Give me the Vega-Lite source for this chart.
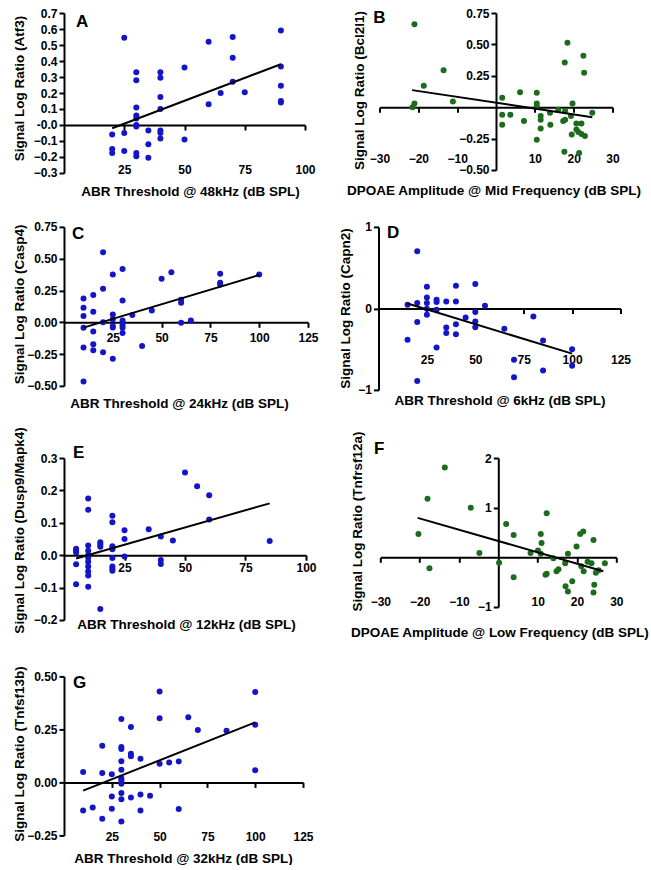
{
  "$schema": "https://vega.github.io/schema/vega-lite/v6.json",
  "padding": {"left": 11, "top": 7, "right": 0, "bottom": 0},
  "config": {
    "view": {"stroke": null},
    "axis": {"grid": false, "domainColor": "#000", "domainWidth": 2, "tickColor": "#000", "tickWidth": 2, "tickSize": 5,
      "labelFont": "Liberation Sans", "labelFontSize": 12, "labelFontWeight": "bold", "labelColor": "#000", "labelPadding": 2,
      "titleFont": "Liberation Sans", "titleFontSize": 13.5, "titleFontWeight": "bold", "titleColor": "#000",
      "labelFlush": false, "labelOverlap": false, "labelBound": false, "titleBaseline": "middle"},
    "text": {"font": "Liberation Sans", "fontWeight": "bold", "fontSize": 17, "color": "#000", "align": "center", "baseline": "alphabetic"},
    "circle": {"size": 36, "opacity": 1},
    "line": {"color": "#000", "strokeWidth": 2}
  },
  "datasets": {
    "A": [{"x":20,"y":-0.06},{"x":20,"y":-0.15},{"x":20,"y":-0.175},{"x":25,"y":0.545},{"x":25,"y":-0.05},{"x":25,"y":-0.163},
      {"x":30,"y":0.33},{"x":30,"y":0.28},{"x":30,"y":0.11},{"x":30,"y":0.06},{"x":30,"y":0.04},{"x":30,"y":0.0},{"x":30,"y":-0.01},{"x":30,"y":-0.175},{"x":30,"y":-0.195},
      {"x":35,"y":-0.035},{"x":35,"y":-0.12},{"x":35,"y":-0.205},
      {"x":40,"y":0.33},{"x":40,"y":0.295},{"x":40,"y":0.175},{"x":40,"y":0.1},{"x":40,"y":-0.035},{"x":40,"y":-0.05},{"x":40,"y":-0.085},
      {"x":50,"y":0.36},{"x":50,"y":-0.09},{"x":60,"y":0.52},{"x":60,"y":0.13},{"x":65,"y":0.2},
      {"x":70,"y":0.55},{"x":70,"y":0.42},{"x":70,"y":0.27},{"x":75,"y":0.205},
      {"x":90,"y":0.59},{"x":90,"y":0.365},{"x":90,"y":0.245},{"x":90,"y":0.15},{"x":90,"y":0.14}],
    "Afit": [{"x":20,"y":-0.02},{"x":90,"y":0.38}],
    "B": [{"x":-21,"y":0.66},{"x":-21,"y":0.03},{"x":-21.5,"y":0.0},{"x":-18.6,"y":0.17},{"x":-13.5,"y":0.295},{"x":-11.1,"y":0.045},
      {"x":1.6,"y":0.075},{"x":1.6,"y":-0.06},{"x":1.6,"y":-0.14},{"x":3.7,"y":-0.06},{"x":6.2,"y":0.12},{"x":7.2,"y":-0.11},
      {"x":10.5,"y":0.115},{"x":10.5,"y":0.03},{"x":10.5,"y":0.005},{"x":10.5,"y":-0.26},{"x":11.5,"y":-0.07},{"x":11.5,"y":-0.1},{"x":11.5,"y":-0.17},
      {"x":13.9,"y":-0.045},{"x":14,"y":-0.14},{"x":16,"y":-0.02},{"x":17.3,"y":-0.11},{"x":17.8,"y":-0.1},{"x":17.7,"y":0.355},{"x":17.8,"y":-0.03},{"x":17.6,"y":-0.355},
      {"x":18.4,"y":0.513},{"x":19.5,"y":-0.218},{"x":19.7,"y":0.03},{"x":19.3,"y":-0.07},{"x":20.7,"y":-0.13},{"x":20.7,"y":-0.178},{"x":21.2,"y":-0.197},{"x":21.4,"y":-0.364},
      {"x":22,"y":-0.13},{"x":22,"y":-0.213},{"x":22.5,"y":0.41},{"x":22.7,"y":0.275},{"x":22.9,"y":-0.23},{"x":24.8,"y":-0.045}],
    "Bfit": [{"x":-21.6,"y":0.136},{"x":24.8,"y":-0.08}],
    "C": [{"x":10,"y":0.188},{"x":10,"y":0.115},{"x":10,"y":0.049},{"x":10,"y":-0.042},{"x":10,"y":-0.199},{"x":10,"y":-0.466},
      {"x":15,"y":0.214},{"x":15,"y":0.083},{"x":15,"y":-0.073},{"x":15,"y":-0.173},{"x":15,"y":-0.22},
      {"x":20,"y":0.551},{"x":20,"y":0.264},{"x":20,"y":0.0},{"x":20,"y":-0.236},
      {"x":25,"y":0.376},{"x":25,"y":0.062},{"x":25,"y":0.023},{"x":25,"y":-0.03},{"x":25,"y":-0.04},{"x":25,"y":-0.286},
      {"x":30,"y":0.42},{"x":30,"y":0.172},{"x":30,"y":0.015},{"x":30,"y":-0.024},{"x":30,"y":-0.042},{"x":30,"y":-0.084},
      {"x":35,"y":0.057},{"x":40,"y":-0.187},{"x":45,"y":0.093},{"x":50,"y":0.342},{"x":55,"y":0.394},
      {"x":60,"y":0.177},{"x":60,"y":0.153},{"x":60,"y":-0.003},{"x":65,"y":0.015},
      {"x":80,"y":0.381},{"x":80,"y":0.311},{"x":80,"y":0.298},{"x":100,"y":0.376}],
    "Cfit": [{"x":10,"y":-0.042},{"x":100,"y":0.372}],
    "D": [{"x":15,"y":0.045},{"x":15,"y":-0.385},{"x":20,"y":0.7},{"x":20,"y":0.066},{"x":20,"y":-0.168},{"x":20,"y":-0.89},
      {"x":25,"y":0.266},{"x":25,"y":0.135},{"x":25,"y":0.066},{"x":25,"y":-0.004},{"x":25,"y":-0.078},
      {"x":30,"y":0.107},{"x":30,"y":0.078},{"x":30,"y":-0.016},{"x":30,"y":-0.48},
      {"x":35,"y":0.086},{"x":35,"y":-0.234},{"x":35,"y":-0.303},
      {"x":40,"y":0.279},{"x":40,"y":0.086},{"x":40,"y":-0.193},{"x":40,"y":-0.316},{"x":45,"y":-0.111},
      {"x":50,"y":0.3},{"x":50,"y":-0.045},{"x":50,"y":-0.16},{"x":50,"y":-0.23},
      {"x":55,"y":0.033},{"x":65,"y":-0.25},{"x":70,"y":-0.63},{"x":70,"y":-0.844},{"x":80,"y":-0.098},{"x":85,"y":-0.393},{"x":85,"y":-0.762},{"x":100,"y":-0.5},{"x":100,"y":-0.705}],
    "Dfit": [{"x":15,"y":0.06},{"x":100,"y":-0.555}],
    "E": [{"x":5,"y":0.02},{"x":5,"y":0.015},{"x":5,"y":0.008},{"x":5,"y":-0.028},{"x":5,"y":-0.09},
      {"x":10,"y":0.175},{"x":10,"y":0.14},{"x":10,"y":0.03},{"x":10,"y":0.014},{"x":10,"y":0.0},{"x":10,"y":-0.008},{"x":10,"y":-0.02},{"x":10,"y":-0.035},{"x":10,"y":-0.05},{"x":10,"y":-0.063},{"x":10,"y":-0.097},
      {"x":15,"y":0.04},{"x":15,"y":0.033},{"x":15,"y":0.026},{"x":15,"y":-0.166},
      {"x":20,"y":0.122},{"x":20,"y":0.102},{"x":20,"y":0.028},{"x":20,"y":0.022},{"x":20,"y":0.018},{"x":20,"y":-0.009},{"x":20,"y":-0.035},{"x":20,"y":-0.042},{"x":20,"y":-0.048},
      {"x":25,"y":0.077},{"x":25,"y":0.05},{"x":25,"y":-0.004},
      {"x":35,"y":0.08},{"x":40,"y":0.058},{"x":40,"y":-0.015},{"x":40,"y":-0.027},{"x":45,"y":0.045},{"x":50,"y":0.255},{"x":55,"y":0.213},{"x":60,"y":0.185},{"x":60,"y":0.11},{"x":85,"y":0.044}],
    "Efit": [{"x":5,"y":-0.01},{"x":85,"y":0.16}],
    "F": [{"x":-20.3,"y":0.47},{"x":-18,"y":1.18},{"x":-17.5,"y":-0.22},{"x":-13.6,"y":1.81},{"x":-7,"y":1.0},{"x":-4.8,"y":0.085},
      {"x":0.2,"y":-0.11},{"x":2,"y":0.67},{"x":3.9,"y":0.45},{"x":3.9,"y":-0.4},{"x":8.2,"y":0.085},{"x":10.1,"y":0.14},{"x":10.8,"y":0.47},{"x":11,"y":0.29},{"x":10.8,"y":0.07},
      {"x":12.3,"y":0.89},{"x":12,"y":-0.35},{"x":12.3,"y":-0.33},{"x":14,"y":-0.02},{"x":14.8,"y":-0.28},{"x":15.3,"y":-0.24},{"x":17,"y":-0.12},{"x":17.7,"y":0.07},
      {"x":17.1,"y":-0.58},{"x":17.7,"y":-0.69},{"x":18.8,"y":-0.48},{"x":19.9,"y":0.22},{"x":20.8,"y":0.47},{"x":21.1,"y":-0.18},{"x":21.6,"y":0.52},{"x":21.7,"y":-0.28},
      {"x":22.7,"y":-0.09},{"x":23.7,"y":-0.12},{"x":24.2,"y":0.35},{"x":24.4,"y":-0.55},{"x":24.2,"y":-0.71},{"x":24.8,"y":-0.31},{"x":25.5,"y":-0.26},{"x":27.1,"y":-0.12}],
    "Ffit": [{"x":-20.5,"y":0.795},{"x":26.7,"y":-0.28}],
    "G": [{"x":10,"y":0.049},{"x":10,"y":-0.132},{"x":15,"y":-0.118},{"x":20,"y":0.173},{"x":20,"y":0.044},{"x":20,"y":-0.171},
      {"x":25,"y":0.038},{"x":25,"y":-0.066},{"x":25,"y":-0.124},
      {"x":30,"y":0.299},{"x":30,"y":0.167},{"x":30,"y":0.157},{"x":30,"y":0.1},{"x":30,"y":0.06},{"x":30,"y":0.02},{"x":30,"y":0.009},{"x":30,"y":-0.006},{"x":30,"y":-0.05},{"x":30,"y":-0.079},{"x":30,"y":-0.184},
      {"x":35,"y":0.261},{"x":35,"y":0.135},{"x":35,"y":0.123},{"x":35,"y":-0.071},{"x":40,"y":0.112},{"x":40,"y":-0.057},{"x":40,"y":-0.132},{"x":45,"y":-0.063},
      {"x":50,"y":0.429},{"x":50,"y":0.303},{"x":50,"y":0.088},{"x":55,"y":0.094},{"x":60,"y":0.099},{"x":60,"y":-0.126},{"x":65,"y":0.307},{"x":70,"y":0.247},{"x":85,"y":0.244},
      {"x":100,"y":0.426},{"x":100,"y":0.272},{"x":100,"y":0.057}],
    "Gfit": [{"x":10,"y":-0.039},{"x":100,"y":0.283}]
  },
  "spacing": 22.9,
  "vconcat": [
    {"hconcat": [
      {"width": 241, "height": 160, "layer": [
        {"data": {"name": "A"}, "mark": {"type": "circle", "color": "#1515c8"},
         "encoding": {
          "x": {"field": "x", "type": "quantitative", "scale": {"domain": [-0.00001, 100.00001], "nice": false, "zero": false},
            "axis": {"title": "ABR Threshold @ 48kHz (dB SPL)", "values": [25, 50, 75, 100], "format": "d", "tickCount": 100, "labelOverlap": false, "offset": -48, "labelPadding": 34, "titleX": 126, "titleY": 66}},
          "y": {"field": "y", "type": "quantitative", "scale": {"domain": [-0.30001, 0.70001], "nice": false, "zero": false},
            "axis": {"title": "Signal Log Ratio (Atf3)", "values": [-0.3, -0.2, -0.1, 0, 0.1, 0.2, 0.3, 0.4, 0.5, 0.6, 0.7], "tickCount": 100, "labelOverlap": false, "labelExpr": "datum.value == 0 ? '-0.0' : format(datum.value, '.1f')", "titleX": -45, "titleY": 75}}}},
        {"data": {"name": "Afit"}, "mark": {"type": "line"}, "encoding": {"x": {"field": "x", "type": "quantitative"}, "y": {"field": "y", "type": "quantitative"}}},
        {"data": {"values": [{"label": "A"}]}, "mark": {"type": "text"}, "encoding": {"x": {"datum": 7.5}, "y": {"datum": 0.615}, "text": {"field": "label"}}}
      ]},
      {"width": 233, "height": 157, "layer": [
        {"data": {"name": "B"}, "mark": {"type": "circle", "color": "#1d6b1d"},
         "encoding": {
          "x": {"field": "x", "type": "quantitative", "scale": {"domain": [-30.0001, 30.0001], "nice": false, "zero": false},
            "axis": {"title": "DPOAE Amplitude @ Mid Frequency (dB SPL)", "values": [-30, -20, -10, 10, 20, 30], "format": "d", "tickCount": 100, "labelOverlap": false, "offset": -62.8, "labelPadding": 41, "titleX": 114, "titleY": 83}},
          "y": {"field": "y", "type": "quantitative", "scale": {"domain": [-0.50001, 0.75001], "nice": false, "zero": false},
            "axis": {"title": "Signal Log Ratio (Bcl2l1)", "values": [-0.5, -0.25, 0.25, 0.5, 0.75], "tickCount": 100, "labelOverlap": false, "format": ".2f", "offset": -116.5, "titleX": -137, "titleY": 77}}}},
        {"data": {"name": "Bfit"}, "mark": {"type": "line"}, "encoding": {"x": {"field": "x", "type": "quantitative"}, "y": {"field": "y", "type": "quantitative"}}},
        {"data": {"values": [{"label": "B"}]}, "mark": {"type": "text"}, "encoding": {"x": {"datum": -30}, "y": {"datum": 0.668}, "text": {"field": "label"}}}
      ]}
    ], "bounds": "flush", "spacing": 74.5},
    {"vconcat": [
      {"hconcat": [
        {"width": 244, "height": 159, "layer": [
          {"data": {"name": "C"}, "mark": {"type": "circle", "color": "#1515c8"},
           "encoding": {
            "x": {"field": "x", "type": "quantitative", "scale": {"domain": [-0.00001, 125.00001], "nice": false, "zero": false},
              "axis": {"title": "ABR Threshold @ 24kHz (dB SPL)", "values": [25, 50, 75, 100, 125], "format": "d", "tickCount": 100, "labelOverlap": false, "offset": -63.6, "labelPadding": 5, "titleX": 115, "titleY": 81}},
            "y": {"field": "y", "type": "quantitative", "scale": {"domain": [-0.50001, 0.75001], "nice": false, "zero": false},
              "axis": {"title": "Signal Log Ratio (Casp4)", "values": [-0.5, -0.25, 0, 0.25, 0.5, 0.75], "tickCount": 100, "labelOverlap": false, "format": ".2f", "titleX": -45, "titleY": 77}}}},
          {"data": {"name": "Cfit"}, "mark": {"type": "line"}, "encoding": {"x": {"field": "x", "type": "quantitative"}, "y": {"field": "y", "type": "quantitative"}}},
          {"data": {"values": [{"label": "C"}]}, "mark": {"type": "text"}, "encoding": {"x": {"datum": 7.2}, "y": {"datum": 0.653}, "text": {"field": "label"}}}
        ]},
        {"width": 242, "height": 163, "layer": [
          {"data": {"name": "D"}, "mark": {"type": "circle", "color": "#1515c8"},
           "encoding": {
            "x": {"field": "x", "type": "quantitative", "scale": {"domain": [-0.00001, 125.00001], "nice": false, "zero": false},
              "axis": {"title": "ABR Threshold @ 6kHz (dB SPL)", "values": [25, 50, 75, 100, 125], "format": "d", "tickCount": 100, "labelOverlap": false, "offset": -81.5, "labelPadding": 41, "titleX": 121, "titleY": 92}},
            "y": {"field": "y", "type": "quantitative", "scale": {"domain": [-1.00001, 1.00001], "nice": false, "zero": false},
              "axis": {"title": "Signal Log Ratio (Capn2)", "values": [-1, 0, 1], "tickCount": 100, "labelOverlap": false, "labelExpr": "datum.value == 0 ? '0' : format(datum.value, 'd')", "titleX": -33, "titleY": 81}}}},
          {"data": {"name": "Dfit"}, "mark": {"type": "line"}, "encoding": {"x": {"field": "x", "type": "quantitative"}, "y": {"field": "y", "type": "quantitative"}}},
          {"data": {"values": [{"label": "D"}]}, "mark": {"type": "text"}, "encoding": {"x": {"datum": 7.6}, "y": {"datum": 0.865}, "text": {"field": "label"}}}
        ]}
      ], "bounds": "flush", "spacing": 70.5},
      {"vconcat": [
        {"hconcat": [
          {"width": 242, "height": 162, "layer": [
            {"data": {"name": "E"}, "mark": {"type": "circle", "color": "#1515c8"},
             "encoding": {
              "x": {"field": "x", "type": "quantitative", "scale": {"domain": [-0.00001, 100.00001], "nice": false, "zero": false},
                "axis": {"title": "ABR Threshold @ 12kHz (dB SPL)", "values": [25, 50, 75, 100], "format": "d", "tickCount": 100, "labelOverlap": false, "offset": -64.8, "labelPadding": 2, "titleX": 122, "titleY": 69}},
              "y": {"field": "y", "type": "quantitative", "scale": {"domain": [-0.20001, 0.30001], "nice": false, "zero": false},
                "axis": {"title": "Signal Log Ratio (Dusp9/Mapk4)", "values": [-0.2, -0.1, 0, 0.1, 0.2, 0.3], "tickCount": 100, "labelOverlap": false, "format": ".1f", "titleX": -45, "titleY": 72}}}},
            {"data": {"name": "Efit"}, "mark": {"type": "line"}, "encoding": {"x": {"field": "x", "type": "quantitative"}, "y": {"field": "y", "type": "quantitative"}}},
            {"data": {"values": [{"label": "E"}]}, "mark": {"type": "text"}, "encoding": {"x": {"datum": 6.1}, "y": {"datum": 0.3}, "text": {"field": "label"}}}
          ]},
          {"width": 236, "height": 149, "layer": [
            {"data": {"name": "F"}, "mark": {"type": "circle", "color": "#1d6b1d"},
             "encoding": {
              "x": {"field": "x", "type": "quantitative", "scale": {"domain": [-30.0001, 30.0001], "nice": false, "zero": false},
                "axis": {"title": "DPOAE Amplitude @ Low Frequency (dB SPL)", "values": [-30, -20, -10, 10, 20, 30], "format": "d", "tickCount": 100, "labelOverlap": false, "offset": -49.7, "labelPadding": 34, "titleX": 119, "titleY": 75}},
              "y": {"field": "y", "type": "quantitative", "scale": {"domain": [-1.00001, 2.00001], "nice": false, "zero": false},
                "axis": {"title": "Signal Log Ratio (Tnfrsf12a)", "values": [-1, 1, 2], "tickCount": 100, "labelOverlap": false, "format": "d", "offset": -118, "titleX": -141, "titleY": 63}}}},
            {"data": {"name": "Ffit"}, "mark": {"type": "line"}, "encoding": {"x": {"field": "x", "type": "quantitative"}, "y": {"field": "y", "type": "quantitative"}}},
            {"data": {"values": [{"label": "F"}]}, "mark": {"type": "text"}, "encoding": {"x": {"datum": -30.3}, "y": {"datum": 2.09}, "text": {"field": "label"}}}
          ]}
        ], "bounds": "flush", "spacing": 74.3},
        {"width": 239, "height": 159, "layer": [
          {"data": {"name": "G"}, "mark": {"type": "circle", "color": "#1515c8"},
           "encoding": {
            "x": {"field": "x", "type": "quantitative", "scale": {"domain": [-0.00001, 125.00001], "nice": false, "zero": false},
              "axis": {"title": "ABR Threshold @ 32kHz (dB SPL)", "values": [25, 50, 75, 100, 125], "format": "d", "tickCount": 100, "labelOverlap": false, "offset": -53, "labelPadding": 44, "titleX": 119, "titleY": 76}},
            "y": {"field": "y", "type": "quantitative", "scale": {"domain": [-0.25001, 0.50001], "nice": false, "zero": false},
              "axis": {"title": "Signal Log Ratio (Tnfsf13b)", "values": [-0.25, 0, 0.25, 0.5], "tickCount": 100, "labelOverlap": false, "format": ".2f", "titleX": -45, "titleY": 77}}}},
          {"data": {"name": "Gfit"}, "mark": {"type": "line"}, "encoding": {"x": {"field": "x", "type": "quantitative"}, "y": {"field": "y", "type": "quantitative"}}},
          {"data": {"values": [{"label": "G"}]}, "mark": {"type": "text"}, "encoding": {"x": {"datum": 8.2}, "y": {"datum": 0.447}, "text": {"field": "label"}}}
        ]}
      ], "spacing": 26.4}
    ], "spacing": 16.1}
  ]
}
